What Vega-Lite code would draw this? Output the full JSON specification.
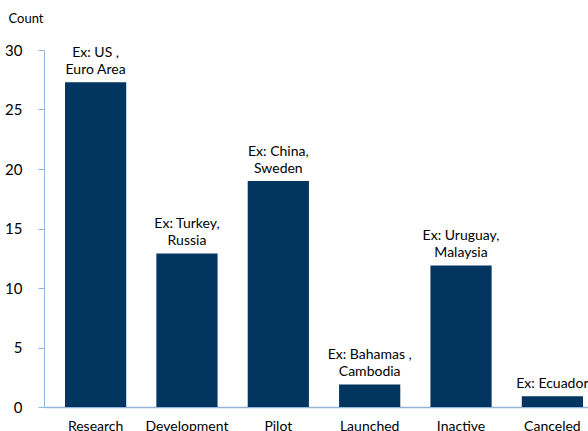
{
  "$schema": "https://vega.github.io/schema/vega-lite/v6.json",
  "autosize": {"type": "none"},
  "padding": {"left": 44, "top": 50, "right": 0, "bottom": 24},
  "width": 560,
  "height": 357,
  "background": "white",
  "data": {
    "values": [
      {"stage": "Research", "count": 27.3, "line1": "Ex: US ,", "line2": "Euro Area"},
      {"stage": "Development", "count": 12.9, "line1": "Ex: Turkey,", "line2": "Russia"},
      {"stage": "Pilot", "count": 19.0, "line1": "Ex: China,", "line2": "Sweden"},
      {"stage": "Launched", "count": 1.9, "line1": "Ex: Bahamas ,", "line2": "Cambodia"},
      {"stage": "Inactive", "count": 11.9, "line1": "Ex: Uruguay,", "line2": "Malaysia"},
      {"stage": "Canceled", "count": 0.9, "line1": "", "line2": "Ex: Ecuador"}
    ]
  },
  "config": {
    "view": {"stroke": null},
    "font": "Lato"
  },
  "encoding": {
    "x": {
      "field": "stage",
      "type": "nominal",
      "sort": null,
      "scale": {"paddingInner": 0.33, "paddingOuter": 0.23},
      "axis": {
        "title": null,
        "labelAngle": 0,
        "ticks": false,
        "domainColor": "#95B3D7",
        "domainWidth": 1.5,
        "labelFont": "Lato",
        "labelFontSize": 14,
        "labelColor": "#000000",
        "labelPadding": 12,
        "labelBaseline": "top"
      }
    },
    "y": {
      "field": "count",
      "type": "quantitative",
      "scale": {"domain": [0, 30], "nice": false},
      "axis": {
        "values": [0, 5, 10, 15, 20, 25, 30],
        "grid": false,
        "title": "Count",
        "titleAngle": 0,
        "titleAlign": "left",
        "titleBaseline": "middle",
        "titleX": -36,
        "titleY": -32,
        "titleFont": "Lato",
        "titleFontSize": 13,
        "titleFontWeight": "normal",
        "titleColor": "#000000",
        "tickSize": 6,
        "tickColor": "#95B3D7",
        "domainColor": "#95B3D7",
        "labelFont": "Lato",
        "labelFontSize": 15,
        "labelColor": "#000000",
        "labelPadding": 16
      }
    }
  },
  "layer": [
    {"mark": {"type": "bar", "color": "#02355F"}},
    {
      "mark": {
        "type": "text",
        "baseline": "alphabetic",
        "dy": -8,
        "fontSize": 14,
        "color": "#000000",
        "font": "Lato"
      },
      "encoding": {"text": {"field": "line2", "type": "nominal"}}
    },
    {
      "mark": {
        "type": "text",
        "baseline": "alphabetic",
        "dy": -25,
        "fontSize": 14,
        "color": "#000000",
        "font": "Lato"
      },
      "encoding": {"text": {"field": "line1", "type": "nominal"}}
    }
  ]
}
